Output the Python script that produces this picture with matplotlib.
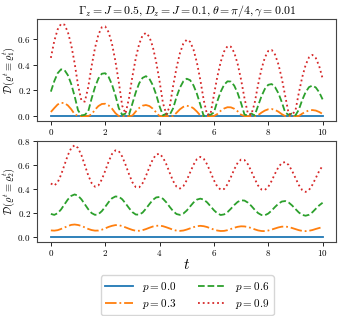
import matplotlib
matplotlib.use("Agg")
import matplotlib.pyplot as plt
import numpy as np

plt.rcParams["font.family"] = "serif"
plt.rcParams["font.serif"] = ["cmr10"]
plt.rcParams["mathtext.fontset"] = "cm"
plt.rcParams["axes.formatter.use_mathtext"] = True

# time grid (step 0.125)
t = np.linspace(0, 10, 81)
p_labels = ["$p = 0.0$", "$p = 0.3$", "$p = 0.6$", "$p = 0.9$"]

# top panel: D(rho^t = rho_1^t)
top_p00 = np.zeros(81)
top_p03 = [
    .032, .062, .090, .103, .101, .083, .053, .015, .000, .000,
    .000, .000, .014, .050, .078, .094, .096, .083, .058, .023,
    .000, .000, .000, .000, .004, .036, .063, .081, .086, .078,
    .058, .029, .000, .000, .000, .000, .000, .026, .053, .072,
    .080, .076, .060, .035, .005, .000, .000, .000, .000, .016,
    .041, .059, .069, .068, .057, .037, .011, .000, .000, .000,
    .000, .007, .027, .043, .053, .055, .048, .034, .015, .000,
    .000, .000, .000, .001, .019, .034, .044, .047, .043, .032,
    .017]
top_p06 = [
    .190, .271, .333, .363, .358, .318, .249, .154, .045, .005,
    .010, .036, .137, .226, .292, .329, .333, .304, .245, .161,
    .062, .010, .020, .010, .097, .185, .255, .297, .310, .290,
    .241, .167, .076, .005, .020, .010, .061, .149, .221, .270,
    .290, .279, .238, .173, .089, .000, .015, .010, .028, .115,
    .189, .243, .270, .268, .236, .178, .101, .012, .005, .020,
    .005, .080, .154, .211, .243, .249, .225, .177, .108, .027,
    .010, .020, .005, .050, .125, .186, .225, .237, .222, .185,
    .130]
top_p09 = [
    .452, .583, .673, .716, .710, .653, .551, .410, .240, .120,
    .112, .225, .389, .530, .633, .690, .696, .652, .560, .427,
    .263, .080, .020, .140, .307, .451, .560, .627, .646, .616,
    .539, .421, .271, .101, .015, .074, .235, .376, .489, .563,
    .593, .577, .516, .415, .281, .124, .010, .015, .164, .305,
    .421, .502, .543, .539, .492, .404, .283, .139, .020, .010,
    .102, .244, .365, .455, .506, .514, .478, .401, .291, .155,
    .020, .010, .042, .180, .302, .397, .456, .475, .451, .388,
    .292]

# bottom panel: D(rho^t = rho_2^t)
bot_p00 = np.zeros(81)
bot_p03 = [
    .056, .054, .058, .068, .080, .092, .102, .105, .101, .093,
    .081, .068, .059, .054, .055, .062, .073, .085, .094, .100,
    .099, .092, .081, .070, .060, .053, .053, .058, .067, .078,
    .088, .094, .096, .091, .082, .072, .061, .054, .052, .055,
    .063, .073, .083, .091, .094, .091, .084, .073, .063, .055,
    .051, .052, .058, .068, .078, .086, .090, .089, .084, .076,
    .065, .056, .051, .050, .055, .063, .072, .081, .087, .088,
    .084, .076, .067, .058, .052, .050, .053, .059, .068, .076,
    .083]
bot_p06 = [
    .193, .185, .199, .230, .272, .313, .343, .355, .344, .314,
    .273, .232, .200, .185, .191, .216, .252, .291, .323, .338,
    .336, .315, .280, .242, .208, .188, .187, .204, .237, .274,
    .309, .330, .334, .319, .289, .251, .216, .192, .185, .196,
    .221, .255, .288, .312, .320, .312, .289, .257, .224, .198,
    .184, .189, .208, .236, .267, .293, .306, .304, .287, .260,
    .228, .200, .184, .182, .196, .221, .251, .278, .296, .300,
    .288, .264, .234, .205, .185, .178, .186, .207, .236, .264,
    .286]
bot_p09 = [
    .446, .429, .455, .518, .600, .681, .741, .764, .741, .681,
    .598, .514, .449, .419, .430, .479, .551, .628, .691, .721,
    .715, .670, .601, .524, .456, .416, .414, .448, .509, .581,
    .646, .687, .693, .662, .605, .534, .466, .419, .404, .424,
    .473, .538, .602, .649, .667, .651, .605, .540, .473, .420,
    .394, .400, .439, .499, .564, .618, .645, .641, .606, .549,
    .485, .429, .396, .392, .418, .468, .528, .582, .617, .624,
    .600, .552, .492, .433, .391, .376, .392, .435, .492, .550,
    .593]

styles = ["-", "-.", "--", ":"]
colors = ["tab:blue", "tab:orange", "tab:green", "tab:red"]

fig = plt.figure(figsize=(3.42, 3.16), dpi=100)
ax1 = fig.add_axes([0.109, 0.618, 0.874, 0.321])
ax2 = fig.add_axes([0.109, 0.235, 0.874, 0.320])

for ax, series in [(ax1, [top_p00, top_p03, top_p06, top_p09]),
                   (ax2, [bot_p00, bot_p03, bot_p06, bot_p09])]:
    for y, ls, c, lab in zip(series, styles, colors, p_labels):
        ax.plot(t, y, ls, color=c, lw=1.3, label=lab)
    ax.tick_params(labelsize=6.5, length=3, width=0.6, pad=1.8)
    for s in ax.spines.values():
        s.set_linewidth(0.8)
        s.set_color("#444444")

ax1.set_yticks([0.0, 0.2, 0.4, 0.6])
ax2.set_yticks([0.0, 0.2, 0.4, 0.6, 0.8])
ax1.set_ylabel(r"$\mathcal{D}(\varrho^t \equiv \varrho^t_1)$", fontsize=7.5)
ax2.set_ylabel(r"$\mathcal{D}(\varrho^t \equiv \varrho^t_2)$", fontsize=7.5)
ax1.yaxis.set_label_coords(-0.068, 0.5)
ax2.yaxis.set_label_coords(-0.068, 0.5)
ax1.set_title(r"$\Gamma_z = J = 0.5, D_z = J = 0.1, \theta = \pi/4, \gamma = 0.01$",
              fontsize=8.5, pad=3)
ax2.set_xlabel(r"$t$", fontsize=11, labelpad=0)

handles, labels = ax2.get_legend_handles_labels()
fig.legend(handles, labels, loc="upper center", bbox_to_anchor=(0.547, 0.146),
           ncol=2, fontsize=8, handlelength=2.5, columnspacing=2.0,
           borderpad=0.4, labelspacing=0.25)

fig.savefig("out.png", dpi=100)
